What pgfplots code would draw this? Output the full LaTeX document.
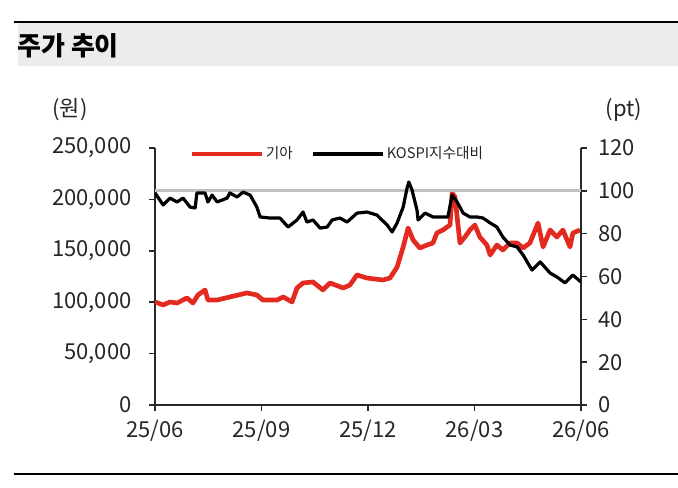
\documentclass[border=0pt]{standalone}
\usepackage{fontspec}
\setmainfont{Noto Sans CJK KR}
\usepackage{pgfplots}
\pgfplotsset{compat=1.18}
\definecolor{kred}{RGB}{226,42,32}
\definecolor{band}{RGB}{236,236,236}
\definecolor{refgray}{RGB}{192,192,192}
\definecolor{axgray}{RGB}{40,40,40}

\pgfplotsset{
  common/.style={
    at={(116.25pt,62.25pt)}, anchor=south west,
    scale only axis, width=319.5pt, height=192.75pt,
    xmin=0, xmax=12,
    tick align=outside, major tick length=4.5pt,
    axis line style={line width=1.1pt, axgray},
    tick style={line width=1.1pt, axgray},
    ticklabel style={font=\fontsize{16.5}{16.5}\selectfont, text=black!85},
  }
}

\begin{document}
\begin{tikzpicture}
\begin{scope}[x=0.75pt,y=0.75pt]
\useasboundingbox (0,0) rectangle (678,488);
\fill[band] (18,422) rectangle (678,466);
\draw[line width=1.5pt] (14,466) -- (678,466);
\draw[line width=1.5pt] (14,14) -- (678,14);
\node[anchor=west, inner sep=0pt, font=\fontsize{19.5}{19.5}\selectfont\bfseries] at (17,442) {주가 추이};
\node[inner sep=0pt, font=\fontsize{16.5}{16.5}\selectfont, text=black!85] at (70,378) {(원)};
\node[inner sep=0pt, font=\fontsize{16.5}{16.5}\selectfont, text=black!85] at (624,378) {(pt)};
\end{scope}

\begin{axis}[common,
  ymin=0, ymax=250000,
  axis x line*=bottom, axis y line*=left,
  xtick={0,3,6,9,12}, xticklabels={25/06,25/09,25/12,26/03,26/06},
  xticklabel style={yshift=-3pt},
  ytick={0,50000,100000,150000,200000,250000},
  yticklabels={0,{50,000},{100,000},{150,000},{200,000},{250,000}},
  scaled y ticks=false,
  yticklabel style={xshift=-9.5pt},
]
\addplot[kred, line width=3.5pt, line join=round] coordinates {
(0,100200) (0.23,97300) (0.42,100200) (0.62,99200) (0.90,104100) (1.07,99200)
(1.21,107000) (1.41,111900) (1.49,102100) (1.75,102100) (2.11,105100) (2.59,109000)
(2.87,107000) (3.04,102100) (3.44,102100) (3.61,105100) (3.86,100200) (4.00,113800)
(4.17,118700) (4.45,119700) (4.73,111900) (4.93,118700) (5.30,113800) (5.49,116700)
(5.69,126500) (5.97,123500) (6.42,121600) (6.62,123500) (6.82,134200) (6.99,153700)
(7.13,172200) (7.27,160500) (7.46,152700) (7.66,155600) (7.83,157600) (7.94,167300)
(8.11,170200) (8.31,175100) (8.37,206200) (8.45,202300) (8.59,157600) (8.73,163400)
(8.87,170200) (9.01,175100) (9.15,163400) (9.35,155600) (9.44,145900) (9.63,155600)
(9.80,150800) (10.00,157600) (10.20,157600) (10.37,152700) (10.56,157600) (10.79,177000)
(10.93,153700) (11.13,170200) (11.32,163400) (11.49,170200) (11.69,153700) (11.77,167300)
(11.97,170200)
};
\end{axis}

\begin{axis}[common,
  ymin=0, ymax=120,
  axis x line=none, axis y line*=right,
  ytick={0,20,40,60,80,100,120},
  yticklabels={0,20,40,60,80,100,120},
  yticklabel style={xshift=5pt},
  legend style={at={(0.43,0.977)}, anchor=center, draw=none, fill=none,
    font=\fontsize{11}{11}\selectfont, text=black!85,
    /tikz/every even column/.append style={column sep=12pt}},
  legend columns=2,
  legend image code/.code={\draw[#1] (0pt,0pt) -- (52pt,0pt);},
]
\addlegendimage{kred, line width=2.6pt}
\addlegendentry{기아}
\addplot[refgray, line width=2pt, forget plot] coordinates {(0,100) (12,100)};
\addplot[black, line width=2.4pt, line join=round] coordinates {
(0,99.0) (0.23,93.4) (0.42,96.6) (0.62,94.8) (0.79,96.6) (0.99,92.4) (1.13,92.0)
(1.18,99.0) (1.41,99.0) (1.49,94.8) (1.61,98.0) (1.75,94.8) (2.03,96.6) (2.11,99.0)
(2.31,97.1) (2.48,99.4) (2.68,98.0) (2.87,92.4) (2.96,87.8) (3.24,87.3) (3.52,87.3)
(3.75,83.1) (4.00,86.4) (4.17,90.1) (4.28,85.4) (4.45,86.4) (4.65,82.6) (4.85,83.1)
(4.99,86.4) (5.21,87.3) (5.41,85.4) (5.69,89.6) (5.97,90.1) (6.25,88.7) (6.54,84.0)
(6.68,80.8) (6.82,85.0) (6.99,92.4) (7.10,101.3) (7.15,104.1) (7.24,100.4) (7.38,91.0)
(7.41,86.4) (7.61,89.6) (7.83,87.8) (8.11,87.8) (8.25,87.8) (8.37,98.0) (8.51,94.8)
(8.68,89.6) (8.87,87.8) (9.07,87.8) (9.24,87.3) (9.44,85.0) (9.63,83.1) (9.80,78.4)
(10.00,74.7) (10.20,73.8) (10.37,70.0) (10.62,63.0) (10.85,66.8) (11.13,61.6)
(11.32,59.8) (11.55,57.0) (11.77,60.7) (12,57.4)
};
\addlegendentry{KOSPI지수대비}
\end{axis}
\end{tikzpicture}
\end{document}
